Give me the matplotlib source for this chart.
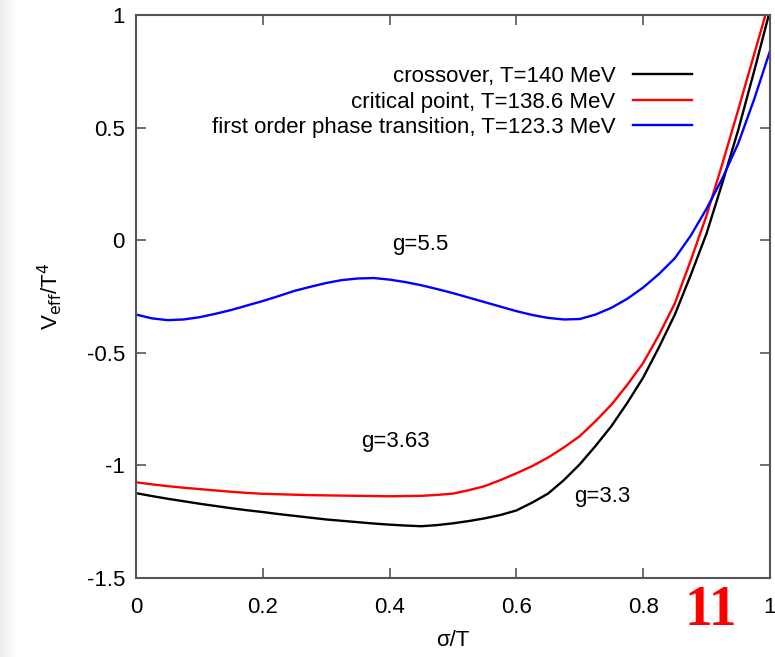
import numpy as np
import matplotlib.pyplot as plt
from matplotlib.patches import Rectangle

# sigma/T grid
x = [0.0, 0.025, 0.05, 0.075, 0.1, 0.125, 0.15, 0.175, 0.2, 0.225, 0.25,
     0.275, 0.3, 0.325, 0.35, 0.375, 0.4, 0.425, 0.45, 0.475, 0.5,
     0.525, 0.55, 0.575, 0.6, 0.625, 0.65, 0.675, 0.7, 0.725, 0.75,
     0.775, 0.8, 0.825, 0.85, 0.875, 0.9, 0.925, 0.95, 0.975, 1.0]

# V_eff/T^4
v_cross = [-1.123, -1.136, -1.148, -1.159, -1.170, -1.180, -1.190, -1.199,
           -1.207, -1.216, -1.224, -1.232, -1.240, -1.246, -1.252, -1.258,
           -1.263, -1.267, -1.270, -1.265, -1.257, -1.247, -1.235, -1.220,
           -1.200, -1.165, -1.125, -1.065, -0.995, -0.913, -0.825, -0.722,
           -0.610, -0.475, -0.330, -0.155, 0.030, 0.255, 0.490, 0.750, 1.020]
v_crit = [-1.075, -1.084, -1.092, -1.099, -1.105, -1.111, -1.117, -1.122,
          -1.126, -1.128, -1.130, -1.132, -1.133, -1.134, -1.135, -1.136,
          -1.137, -1.136, -1.135, -1.131, -1.125, -1.110, -1.092, -1.065,
          -1.035, -1.003, -0.965, -0.920, -0.870, -0.803, -0.730, -0.642,
          -0.545, -0.420, -0.280, -0.090, 0.110, 0.340, 0.580, 0.825, 1.070]
v_first = [-0.330, -0.347, -0.355, -0.352, -0.342, -0.327, -0.310, -0.290,
           -0.270, -0.248, -0.225, -0.207, -0.190, -0.177, -0.170, -0.168,
           -0.175, -0.186, -0.200, -0.217, -0.235, -0.255, -0.275, -0.295,
           -0.315, -0.332, -0.345, -0.352, -0.350, -0.330, -0.300, -0.260,
           -0.210, -0.150, -0.080, 0.020, 0.140, 0.275, 0.430, 0.625, 0.840]

labels = ['crossover, T=140 MeV',
          'critical point, T=138.6 MeV',
          'first order phase transition, T=123.3 MeV']
colors = ['black', 'red', 'blue']

plt.rcParams['font.family'] = ['Liberation Sans', 'DejaVu Sans']

fig = plt.figure(figsize=(7.75, 6.57), dpi=100)
ax = fig.add_axes([0.1755, 0.1202, 0.818, 0.857])

# light grey shadow at the left edge of the slide
for i, g in enumerate(np.linspace(0.93, 1.0, 8)):
    fig.patches.append(Rectangle((i * 0.003, 0), 0.003, 1, transform=fig.transFigure,
                                 color=(g, g, g), zorder=0))

for y, lab, c in zip([v_cross, v_crit, v_first], labels, colors):
    ax.plot(x, y, color=c, linewidth=1.7, label=lab)

ax.set_xlim(0, 1)
ax.set_ylim(-1.5, 1)
ax.set_xticks([0, 0.2, 0.4, 0.6, 0.8, 1])
ax.set_xticklabels(['0', '0.2', '0.4', '0.6', '0.8', '1'])
ax.set_yticks([-1.5, -1, -0.5, 0, 0.5, 1])
ax.set_yticklabels(['-1.5', '-1', '-0.5', '0', '0.5', '1'])
ax.tick_params(direction='in', length=7, width=1.2, top=True, right=True,
               labelsize=16, color='#555555')
ax.tick_params(axis='x', pad=14)
ax.tick_params(axis='y', pad=8)
for s in ax.spines.values():
    s.set_color('#555555')
    s.set_linewidth(1.5)

ax.set_xlabel('σ/T', fontsize=16, labelpad=8)
ax.set_ylabel(r'V$_{\mathrm{eff}}$/T$^4$', fontsize=16, labelpad=16)

ax.text(0.448, -0.02, 'g=5.5', fontsize=16, ha='center', va='center')
ax.text(0.41, -0.895, 'g=3.63', fontsize=16, ha='center', va='center')
ax.text(0.735, -1.14, 'g=3.3', fontsize=16, ha='center', va='center')

ax.legend(loc='upper right', bbox_to_anchor=(0.891, 0.925), frameon=False,
          markerfirst=False, fontsize=16, handlelength=2.65, labelspacing=0.2,
          handletextpad=0.8, borderaxespad=0)

# slide number
fig.text(0.917, 0.07, '11', color='red', fontsize=40, fontweight='bold',
         family='Liberation Serif', ha='center', va='center')

fig.savefig('out.png', dpi=100)
